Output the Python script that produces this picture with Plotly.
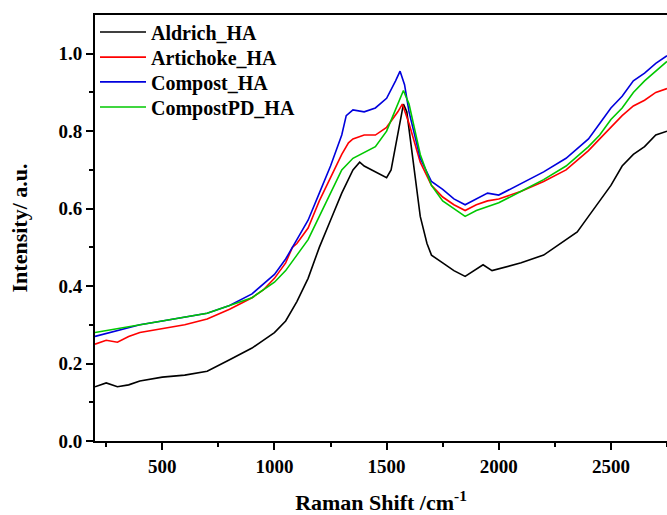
import plotly.graph_objects as go

# Raman shift (cm^-1) sample points
x_aldrich = [200, 250, 300, 350, 400, 500, 600, 700, 800, 900, 950, 1000, 1050, 1100, 1150, 1200, 1250, 1300,
             1350, 1380, 1400, 1450, 1500, 1520, 1550, 1575, 1590, 1620, 1650, 1680, 1700, 1750, 1800, 1850,
             1900, 1930, 1970, 2000, 2100, 2200, 2300, 2350, 2400, 2450, 2500, 2550, 2600, 2650, 2700, 2750]
y_aldrich = [0.14, 0.15, 0.14, 0.145, 0.155, 0.165, 0.17, 0.18, 0.21, 0.24, 0.26, 0.28, 0.31, 0.36, 0.42, 0.50,
             0.57, 0.64, 0.70, 0.72, 0.71, 0.695, 0.68, 0.70, 0.79, 0.87, 0.85, 0.72, 0.58, 0.51, 0.48, 0.46,
             0.44, 0.425, 0.445, 0.455, 0.44, 0.445, 0.46, 0.48, 0.52, 0.54, 0.58, 0.62, 0.66, 0.71, 0.74,
             0.76, 0.79, 0.80]

x_artichoke = [200, 250, 300, 350, 400, 500, 600, 700, 800, 900, 950, 1000, 1050, 1080, 1100, 1150, 1200, 1250,
               1300, 1330, 1350, 1400, 1450, 1500, 1550, 1570, 1600, 1650, 1700, 1750, 1800, 1850, 1900, 1950,
               2000, 2100, 2200, 2300, 2400, 2450, 2500, 2550, 2600, 2650, 2700, 2750]
y_artichoke = [0.25, 0.26, 0.255, 0.27, 0.28, 0.29, 0.30, 0.315, 0.34, 0.37, 0.39, 0.42, 0.46, 0.50, 0.51, 0.55,
               0.62, 0.68, 0.74, 0.77, 0.78, 0.79, 0.79, 0.81, 0.85, 0.87, 0.82, 0.72, 0.66, 0.63, 0.61, 0.595,
               0.61, 0.62, 0.625, 0.645, 0.67, 0.70, 0.75, 0.78, 0.81, 0.84, 0.865, 0.88, 0.90, 0.91]

x_compost = [200, 300, 400, 500, 600, 700, 800, 900, 1000, 1050, 1100, 1150, 1200, 1250, 1300, 1320, 1350,
             1400, 1450, 1500, 1540, 1560, 1580, 1600, 1650, 1700, 1750, 1800, 1850, 1900, 1950, 2000, 2100,
             2200, 2300, 2400, 2450, 2500, 2550, 2600, 2650, 2700, 2750]
y_compost = [0.27, 0.285, 0.30, 0.31, 0.32, 0.33, 0.35, 0.38, 0.43, 0.47, 0.52, 0.57, 0.64, 0.71, 0.79, 0.84,
             0.855, 0.85, 0.86, 0.885, 0.93, 0.955, 0.92, 0.85, 0.73, 0.67, 0.65, 0.625, 0.61, 0.625, 0.64,
             0.635, 0.665, 0.695, 0.73, 0.78, 0.82, 0.86, 0.89, 0.93, 0.95, 0.975, 0.995]

x_compostpd = [200, 300, 400, 500, 600, 700, 800, 900, 1000, 1050, 1100, 1150, 1200, 1250, 1300, 1350, 1400,
               1450, 1500, 1550, 1575, 1600, 1650, 1700, 1750, 1800, 1850, 1900, 2000, 2100, 2200, 2300, 2400,
               2450, 2500, 2550, 2600, 2650, 2700, 2750]
y_compostpd = [0.28, 0.29, 0.30, 0.31, 0.32, 0.33, 0.35, 0.37, 0.41, 0.44, 0.48, 0.52, 0.58, 0.64, 0.70, 0.73,
               0.745, 0.76, 0.80, 0.87, 0.905, 0.87, 0.74, 0.66, 0.62, 0.60, 0.58, 0.595, 0.615, 0.645, 0.675,
               0.71, 0.76, 0.79, 0.83, 0.86, 0.90, 0.93, 0.955, 0.98]

series = [
    ("Aldrich_HA", x_aldrich, y_aldrich, "#000000"),
    ("Artichoke_HA", x_artichoke, y_artichoke, "#ff0000"),
    ("Compost_HA", x_compost, y_compost, "#0000dd"),
    ("CompostPD_HA", x_compostpd, y_compostpd, "#00c800"),
]

FONT = "Liberation Serif"
legend_ids = ["legend", "legend2", "legend3", "legend4"]
legend_y = [0.960, 0.901, 0.843, 0.784]

fig = go.Figure()
for (name, xs, ys, col), lid in zip(series, legend_ids):
    fig.add_trace(go.Scatter(x=xs, y=ys, mode="lines", name=name, legend=lid,
                             line=dict(color=col, width=1.6)))

layout_legends = {}
for lid, ly in zip(legend_ids, legend_y):
    layout_legends[lid] = dict(x=0.0, y=ly, xanchor="left", yanchor="middle",
                               bgcolor="rgba(0,0,0,0)", itemwidth=46,
                               font=dict(family=FONT, size=20, weight="bold", color="black"))

fig.update_layout(
    width=667, height=515,
    margin=dict(l=95, r=0, t=15, b=74),
    paper_bgcolor="white", plot_bgcolor="white",
    font=dict(family=FONT, color="black"),
    showlegend=True,
    **layout_legends,
)

fig.update_xaxes(
    range=[200, 2750],
    tickvals=[500, 1000, 1500, 2000, 2500],
    ticks="outside", ticklen=7, tickwidth=1.5, tickcolor="black",
    minor=dict(tickvals=[250, 750, 1250, 1750, 2250, 2750], ticks="outside", ticklen=4, tickwidth=1.5,
               tickcolor="black"),
    showline=True, linewidth=2, linecolor="black", mirror=True,
    showgrid=False, zeroline=False,
    tickfont=dict(family=FONT, size=19, weight="bold", color="black"),
    title=dict(text="Raman Shift /cm<sup>-1</sup>", standoff=23,
               font=dict(family=FONT, size=22, weight="bold", color="black")),
)
fig.update_yaxes(
    range=[0, 1.1],
    tickvals=[0.0, 0.2, 0.4, 0.6, 0.8, 1.0],
    ticktext=["0.0", "0.2", "0.4", "0.6", "0.8", "1.0"],
    ticks="outside", ticklen=7, tickwidth=1.5, tickcolor="black",
    minor=dict(tickvals=[0.1, 0.3, 0.5, 0.7, 0.9], ticks="outside", ticklen=4, tickwidth=1.5,
               tickcolor="black"),
    showline=True, linewidth=2, linecolor="black", mirror=False,
    showgrid=False, zeroline=False,
    tickfont=dict(family=FONT, size=19, weight="bold", color="black"),
    title=dict(text="Intensity/ a.u.", standoff=25,
               font=dict(family=FONT, size=22, weight="bold", color="black")),
)

# remove the default page margin so the figure fills the 667x515 window exactly
fig.write_html("out.html",
               config={"displayModeBar": False},
               post_script="document.body.style.margin='0';document.body.style.overflow='hidden';")
